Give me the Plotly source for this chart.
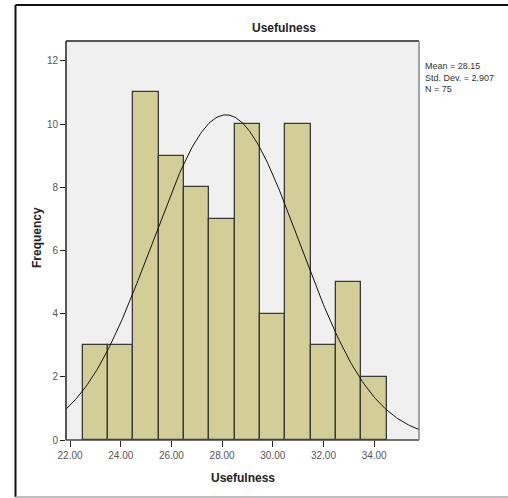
import numpy as np
import plotly.graph_objects as go

# Data
bin_centers = [23, 24, 25, 26, 27, 28, 29, 30, 31, 32, 33, 34]
frequencies = [3, 3, 11, 9, 8, 7, 10, 4, 10, 3, 5, 2]
x_tick_vals = [22, 24, 26, 28, 30, 32, 34]
x_tick_text = ["22.00", "24.00", "26.00", "28.00", "30.00", "32.00", "34.00"]
y_tick_vals = [0, 2, 4, 6, 8, 10, 12]
mean_val = 28.15
sd_val = 2.907
n_val = 75
bin_width = 1.0

W, H = 508, 498
L, R, T, B = 66, 419, 41, 440
x_range = [21.84, 35.77]
y_range = [0, 12.63]

def px(xp):
    return (xp - L) / (R - L)

def py(yp):
    return (B - yp) / (B - T)

xs = np.linspace(x_range[0], x_range[1], 300)
ys = n_val * bin_width / (sd_val * np.sqrt(2 * np.pi)) * np.exp(-0.5 * ((xs - mean_val) / sd_val) ** 2)

fig = go.Figure()
fig.add_trace(go.Bar(x=bin_centers, y=frequencies, width=bin_width,
                     marker=dict(color="#d3ce97", line=dict(color="#3a3a3a", width=1.3)),
                     hoverinfo="skip"))
fig.add_trace(go.Scatter(x=xs, y=ys, mode="lines", line=dict(color="#111111", width=1),
                         hoverinfo="skip", cliponaxis=True))

font = "Liberation Sans, Arial, sans-serif"
fig.update_layout(
    width=W, height=H,
    margin=dict(l=L, r=W - R, t=T, b=H - B, pad=0),
    paper_bgcolor="white", plot_bgcolor="#f0f0f0",
    showlegend=False, bargap=0,
    font=dict(family=font, color="#555555", size=10),
    xaxis=dict(range=x_range, tickvals=x_tick_vals, ticktext=x_tick_text,
               ticks="outside", ticklen=6, tickcolor="#222222", tickwidth=1,
               showgrid=False, zeroline=False, showline=False,
               tickfont=dict(size=10, color="#555555")),
    yaxis=dict(range=y_range, tickvals=y_tick_vals,
               ticks="outside", ticklen=5, tickcolor="#222222", tickwidth=1,
               showgrid=False, zeroline=False, showline=False,
               tickfont=dict(size=10, color="#555555")),
    shapes=[
        # plot frame
        dict(type="line", xref="paper", yref="paper", x0=0, x1=1, y0=1, y1=1,
             line=dict(color="#222222", width=1.5)),
        dict(type="line", xref="paper", yref="paper", x0=0, x1=0, y0=0, y1=1,
             line=dict(color="#222222", width=1.5)),
        dict(type="line", xref="paper", yref="paper", x0=0, x1=1, y0=0, y1=0,
             line=dict(color="#444444", width=1.5)),
        dict(type="line", xref="paper", yref="paper", x0=1, x1=1, y0=0, y1=1,
             line=dict(color="#888888", width=1.5)),
        # outer frame
        dict(type="line", xref="paper", yref="paper", x0=px(15.5), x1=px(508), y0=py(5), y1=py(5),
             line=dict(color="#111111", width=2)),
        dict(type="line", xref="paper", yref="paper", x0=px(15.5), x1=px(15.5), y0=py(5), y1=py(497),
             line=dict(color="#111111", width=2)),
        dict(type="line", xref="paper", yref="paper", x0=px(15.5), x1=px(508), y0=py(497), y1=py(497),
             line=dict(color="#aaaaaa", width=1.5)),
    ],
    annotations=[
        dict(text="<b>Usefulness</b>", xref="paper", yref="paper", x=px(284), y=py(28),
             xanchor="center", yanchor="middle", showarrow=False,
             font=dict(size=12, color="#222222", family=font)),
        dict(text="<b>Usefulness</b>", xref="paper", yref="paper", x=px(242.5), y=py(478),
             xanchor="center", yanchor="middle", showarrow=False,
             font=dict(size=12, color="#222222", family=font)),
        dict(text="<b>Frequency</b>", xref="paper", yref="paper", x=px(37), y=py(238),
             xanchor="center", yanchor="middle", showarrow=False, textangle=-90,
             font=dict(size=12, color="#222222", family=font)),
        dict(text=f"Mean = {mean_val:.2f}<br>Std. Dev. = {sd_val:.3f}<br>N = {n_val}",
             xref="paper", yref="paper", x=px(423), y=py(59),
             xanchor="left", yanchor="top", align="left", showarrow=False,
             font=dict(size=9, color="#333333", family=font)),
    ],
)

fig.write_html("out.html")
